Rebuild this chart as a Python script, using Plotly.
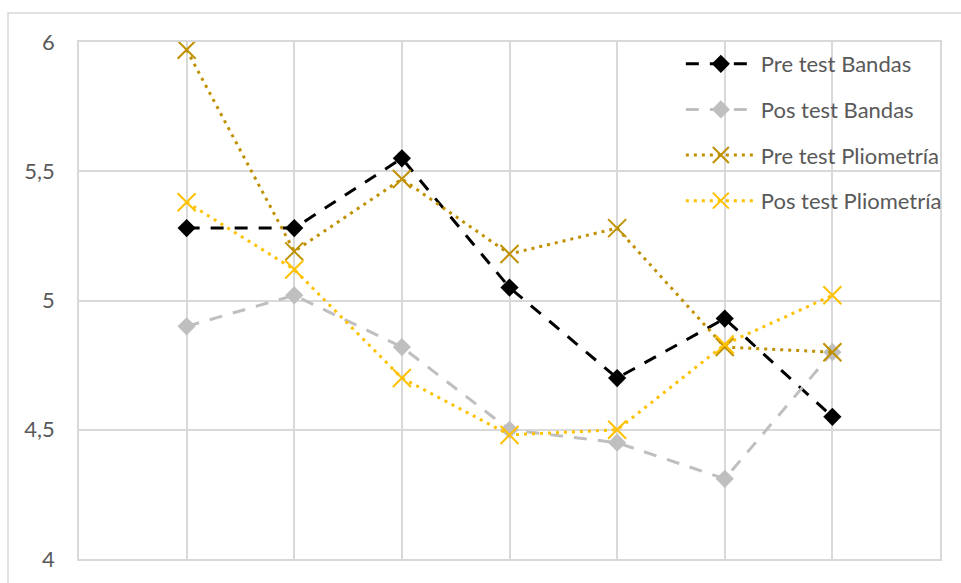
import plotly.graph_objects as go

# Seven measurement points along the x axis
points = [1, 2, 3, 4, 5, 6, 7]

pre_bandas = [5.28, 5.28, 5.55, 5.05, 4.70, 4.93, 4.55]
pos_bandas = [4.90, 5.02, 4.82, 4.50, 4.45, 4.31, 4.80]
pre_pliometria = [5.97, 5.19, 5.47, 5.18, 5.28, 4.82, 4.80]
pos_pliometria = [5.38, 5.12, 4.70, 4.48, 4.50, 4.83, 5.02]

y_ticks = [4, 4.5, 5, 5.5, 6]

FONT = "Lato"
GRID = "#D9D9D9"
TEXT = "#595959"

series = [
    ("Pre test Bandas", pre_bandas, "#000000", "13px,11px", "diamond", 14, 0),
    ("Pos test Bandas", pos_bandas, "#BFBFBF", "13px,11px", "diamond", 14, 0),
    ("Pre test Pliometría", pre_pliometria, "#BF9000", "3px,5px", "x-thin", 18, 2),
    ("Pos test Pliometría", pos_pliometria, "#FFC000", "3px,5px", "x-thin", 18, 2),
]

fig = go.Figure()
for i, (name, vals, color, dash, symbol, size, mlw) in enumerate(series):
    fig.add_trace(go.Scatter(
        x=points, y=vals, name=name, mode="lines+markers",
        legendgroup=f"g{i}",
        line=dict(color=color, width=3, dash=dash),
        marker=dict(symbol=symbol, size=size, color=color,
                    line=dict(color=color, width=mlw)),
    ))

fig.update_layout(
    width=961, height=583,
    margin=dict(l=79, r=21, t=42, b=24),
    paper_bgcolor="white", plot_bgcolor="white",
    separators=",.",
    font=dict(family=FONT, size=22, color=TEXT),
    showlegend=True,
    legend=dict(
        x=0.699, y=0.998, xanchor="left", yanchor="top",
        bgcolor="rgba(0,0,0,0)", borderwidth=0,
        itemwidth=70, tracegroupgap=14,
        font=dict(family=FONT, size=22, color=TEXT),
    ),
    xaxis=dict(
        range=[0, 8], dtick=1, tick0=0, showticklabels=False,
        showgrid=True, gridcolor=GRID, gridwidth=1.5,
        zeroline=False, showline=True, linecolor=GRID, linewidth=1.5,
        mirror=True, ticks="",
    ),
    yaxis=dict(
        range=[4, 6], tickvals=y_ticks, showgrid=True,
        gridcolor=GRID, gridwidth=1.5, zeroline=False,
        showline=True, linecolor=GRID, linewidth=1.5, mirror=True,
        ticks="", ticklabelstandoff=18,
        tickfont=dict(family=FONT, size=22, color=TEXT),
    ),
    shapes=[dict(
        type="rect", xref="paper", yref="paper",
        x0=(8 - 79) / 861, x1=(975 - 79) / 861,
        y0=-(600 - 559) / 517, y1=1 + (42 - 13) / 517,
        line=dict(color=GRID, width=1.5), fillcolor="rgba(0,0,0,0)",
        layer="below",
    )],
)

fig.write_html("out.html")
